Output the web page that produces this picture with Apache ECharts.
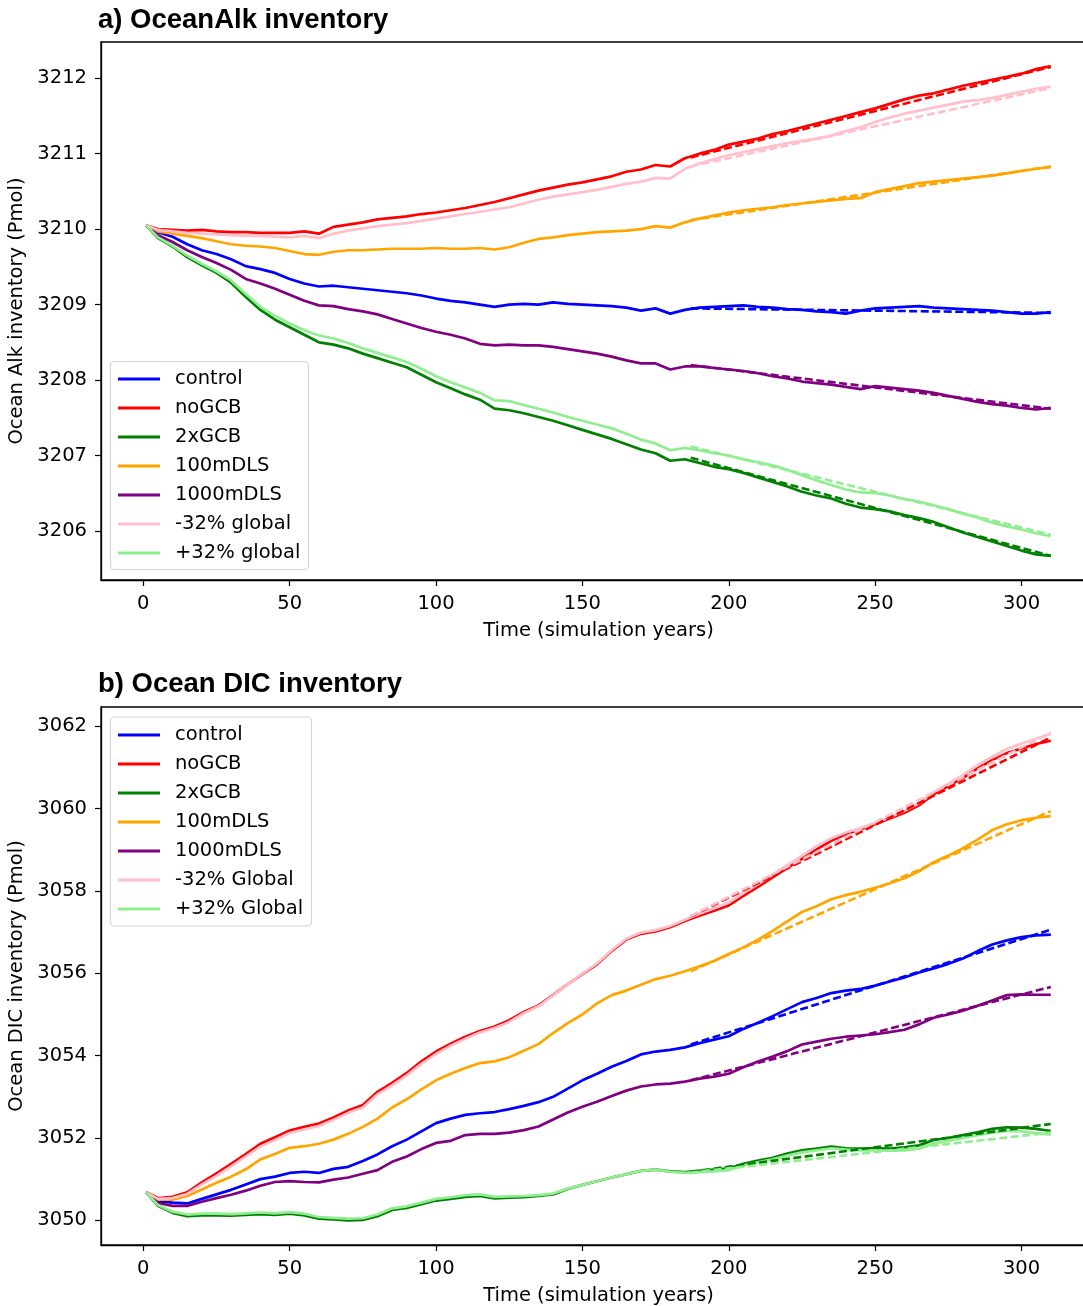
<!DOCTYPE html>
<html><head><meta charset="utf-8">
<script src="https://cdn.jsdelivr.net/npm/echarts@6/dist/echarts.min.js"></script>
<style>html,body{margin:0;padding:0;background:#fff}#c{width:1083px;height:1306px}</style>
</head><body><div id="c"></div>
<script>
// ---------- data ----------
const years = [1,5,10,15,20,25,30,35,40,45,
  50,55,60,65,70,75,80,85,90,95,
  100,105,110,115,120,125,130,135,140,145,
  150,155,160,165,170,175,180,185,190,195,
  200,205,210,215,220,225,230,235,240,245,
  250,255,260,265,270,275,280,285,290,295,
  300,305,310];
const xTicks = [0,50,100,150,200,250,300];
const yTicksA = [3206,3207,3208,3209,3210,3211,3212];
const yTicksB = [3050,3052,3054,3056,3058,3060,3062];
const fitYears = [187,310];

// panel a) alkalinity
const alkControl = [3210.05,3209.96,3209.90,3209.80,3209.72,3209.67,3209.60,3209.51,3209.47,3209.42,
  3209.34,3209.28,3209.24,3209.25,3209.23,3209.21,3209.19,3209.17,3209.15,3209.12,
  3209.08,3209.05,3209.03,3209.00,3208.97,3209.00,3209.01,3209.00,3209.03,3209.01,
  3209.00,3208.99,3208.98,3208.96,3208.92,3208.95,3208.88,3208.93,3208.96,3208.97,
  3208.98,3208.99,3208.97,3208.96,3208.94,3208.93,3208.91,3208.90,3208.88,3208.92,
  3208.95,3208.96,3208.97,3208.98,3208.96,3208.95,3208.94,3208.93,3208.92,3208.90,
  3208.88,3208.88,3208.90];
const alkNoGCB = [3210.05,3210.00,3209.99,3209.98,3209.99,3209.97,3209.96,3209.96,3209.95,3209.95,
  3209.95,3209.97,3209.94,3210.03,3210.06,3210.09,3210.13,3210.15,3210.17,3210.20,
  3210.22,3210.25,3210.28,3210.32,3210.36,3210.41,3210.46,3210.51,3210.55,3210.59,
  3210.62,3210.66,3210.70,3210.76,3210.79,3210.85,3210.83,3210.94,3211.00,3211.05,
  3211.12,3211.16,3211.20,3211.26,3211.30,3211.35,3211.40,3211.45,3211.50,3211.55,
  3211.60,3211.66,3211.72,3211.77,3211.80,3211.85,3211.90,3211.94,3211.98,3212.02,
  3212.06,3212.12,3212.16];
const alk2xGCB = [3210.05,3209.88,3209.77,3209.63,3209.52,3209.42,3209.29,3209.10,3208.93,3208.80,
  3208.70,3208.60,3208.50,3208.47,3208.42,3208.35,3208.29,3208.23,3208.17,3208.07,
  3207.97,3207.89,3207.81,3207.74,3207.62,3207.60,3207.56,3207.51,3207.46,3207.40,
  3207.34,3207.28,3207.22,3207.15,3207.08,3207.03,3206.93,3206.95,3206.90,3206.85,
  3206.82,3206.77,3206.71,3206.65,3206.59,3206.52,3206.47,3206.43,3206.36,3206.31,
  3206.29,3206.26,3206.21,3206.17,3206.12,3206.05,3205.98,3205.92,3205.86,3205.80,
  3205.74,3205.69,3205.67];
const alk100m = [3210.05,3209.97,3209.94,3209.91,3209.88,3209.84,3209.80,3209.78,3209.77,3209.75,
  3209.71,3209.67,3209.66,3209.70,3209.72,3209.72,3209.73,3209.74,3209.74,3209.74,
  3209.75,3209.74,3209.74,3209.75,3209.73,3209.76,3209.82,3209.87,3209.89,3209.92,
  3209.94,3209.96,3209.97,3209.98,3210.00,3210.04,3210.02,3210.09,3210.14,3210.18,
  3210.22,3210.25,3210.27,3210.29,3210.32,3210.34,3210.36,3210.38,3210.40,3210.41,
  3210.49,3210.53,3210.57,3210.61,3210.63,3210.65,3210.67,3210.69,3210.71,3210.74,
  3210.77,3210.80,3210.82];
const alk1000m = [3210.05,3209.92,3209.83,3209.72,3209.63,3209.55,3209.46,3209.34,3209.28,3209.21,
  3209.13,3209.05,3208.99,3208.98,3208.94,3208.91,3208.87,3208.81,3208.75,3208.69,
  3208.64,3208.60,3208.55,3208.48,3208.46,3208.47,3208.46,3208.46,3208.44,3208.41,
  3208.38,3208.35,3208.31,3208.26,3208.22,3208.22,3208.14,3208.18,3208.18,3208.16,
  3208.14,3208.12,3208.09,3208.05,3208.02,3207.98,3207.96,3207.94,3207.91,3207.88,
  3207.92,3207.90,3207.88,3207.86,3207.83,3207.79,3207.75,3207.71,3207.68,3207.66,
  3207.63,3207.61,3207.63];
const alkMinus32 = [3210.05,3209.99,3209.97,3209.95,3209.94,3209.93,3209.92,3209.91,3209.91,3209.90,
  3209.89,3209.91,3209.88,3209.94,3209.98,3210.01,3210.04,3210.06,3210.08,3210.11,
  3210.14,3210.17,3210.20,3210.23,3210.26,3210.29,3210.34,3210.39,3210.43,3210.46,
  3210.49,3210.52,3210.56,3210.60,3210.63,3210.68,3210.67,3210.80,3210.87,3210.93,
  3210.98,3211.02,3211.06,3211.10,3211.14,3211.17,3211.20,3211.24,3211.30,3211.35,
  3211.42,3211.48,3211.53,3211.57,3211.61,3211.65,3211.69,3211.71,3211.74,3211.78,
  3211.82,3211.86,3211.89];
const alkPlus32 = [3210.05,3209.89,3209.78,3209.65,3209.54,3209.44,3209.32,3209.14,3208.97,3208.85,
  3208.75,3208.66,3208.59,3208.55,3208.49,3208.42,3208.36,3208.30,3208.24,3208.15,
  3208.05,3207.97,3207.90,3207.83,3207.73,3207.72,3207.67,3207.62,3207.57,3207.51,
  3207.46,3207.41,3207.36,3207.29,3207.21,3207.16,3207.07,3207.10,3207.07,3207.03,
  3207.00,3206.95,3206.91,3206.87,3206.81,3206.74,3206.67,3206.61,3206.55,3206.51,
  3206.50,3206.47,3206.42,3206.39,3206.34,3206.29,3206.23,3206.18,3206.11,3206.06,
  3206.02,3205.97,3205.93];
// fitted trend lines (start, end) for panel a
const alkFitControl = [3208.95,3208.89];
const alkFitNoGCB = [3210.95,3212.15];
const alkFit2xGCB = [3206.97,3205.67];
const alkFit100m = [3210.12,3210.83];
const alkFit1000m = [3208.20,3207.62];
const alkFitMinus32 = [3210.83,3211.87];
const alkFitPlus32 = [3207.12,3205.95];

// panel b) DIC
const dicControl = [3050.68,3050.46,3050.43,3050.41,3050.52,3050.63,3050.74,3050.87,3051.00,3051.06,
  3051.15,3051.18,3051.15,3051.25,3051.30,3051.44,3051.60,3051.80,3051.96,3052.16,
  3052.36,3052.47,3052.56,3052.60,3052.63,3052.70,3052.78,3052.87,3053.00,3053.20,
  3053.40,3053.56,3053.73,3053.87,3054.03,3054.10,3054.14,3054.20,3054.30,3054.39,
  3054.47,3054.65,3054.80,3054.96,3055.13,3055.30,3055.40,3055.52,3055.58,3055.62,
  3055.70,3055.80,3055.90,3056.02,3056.12,3056.23,3056.36,3056.54,3056.70,3056.80,
  3056.88,3056.92,3056.94];
const dicNoGCB = [3050.68,3050.54,3050.57,3050.68,3050.92,3051.14,3051.37,3051.61,3051.86,3052.02,
  3052.18,3052.27,3052.35,3052.50,3052.67,3052.80,3053.12,3053.34,3053.58,3053.86,
  3054.10,3054.29,3054.46,3054.60,3054.71,3054.86,3055.06,3055.22,3055.47,3055.74,
  3055.98,3056.22,3056.54,3056.82,3056.96,3057.02,3057.12,3057.27,3057.40,3057.52,
  3057.65,3057.88,3058.10,3058.33,3058.56,3058.78,3059.01,3059.22,3059.38,3059.50,
  3059.62,3059.76,3059.90,3060.08,3060.35,3060.55,3060.75,3060.98,3061.18,3061.35,
  3061.46,3061.57,3061.65];
const dic2xGCB = [3050.68,3050.35,3050.18,3050.10,3050.12,3050.12,3050.11,3050.13,3050.15,3050.13,
  3050.16,3050.12,3050.04,3050.02,3050.00,3050.01,3050.10,3050.25,3050.30,3050.39,
  3050.48,3050.52,3050.57,3050.59,3050.53,3050.55,3050.56,3050.59,3050.63,3050.76,
  3050.86,3050.95,3051.04,3051.12,3051.20,3051.23,3051.19,3051.17,3051.20,3051.23,
  3051.26,3051.37,3051.45,3051.52,3051.62,3051.70,3051.74,3051.79,3051.75,3051.74,
  3051.75,3051.74,3051.77,3051.82,3051.95,3052.00,3052.07,3052.14,3052.22,3052.26,
  3052.25,3052.22,3052.17];
const dic100m = [3050.68,3050.50,3050.50,3050.59,3050.75,3050.91,3051.06,3051.24,3051.48,3051.61,
  3051.76,3051.80,3051.86,3051.96,3052.10,3052.27,3052.47,3052.74,3052.94,3053.18,
  3053.40,3053.56,3053.70,3053.82,3053.86,3053.96,3054.12,3054.28,3054.55,3054.79,
  3055.00,3055.27,3055.47,3055.58,3055.72,3055.86,3055.94,3056.05,3056.17,3056.30,
  3056.47,3056.63,3056.82,3057.03,3057.26,3057.49,3057.63,3057.80,3057.90,3057.98,
  3058.08,3058.19,3058.31,3058.48,3058.70,3058.86,3059.04,3059.25,3059.48,3059.62,
  3059.72,3059.78,3059.82];
const dic1000m = [3050.68,3050.42,3050.35,3050.35,3050.45,3050.54,3050.62,3050.72,3050.84,3050.93,
  3050.95,3050.93,3050.92,3050.99,3051.04,3051.13,3051.22,3051.42,3051.55,3051.73,
  3051.88,3051.93,3052.07,3052.10,3052.10,3052.13,3052.19,3052.28,3052.45,3052.62,
  3052.76,3052.88,3053.02,3053.15,3053.25,3053.30,3053.32,3053.37,3053.44,3053.49,
  3053.56,3053.72,3053.86,3053.98,3054.11,3054.27,3054.34,3054.41,3054.46,3054.49,
  3054.52,3054.57,3054.63,3054.76,3054.92,3055.00,3055.09,3055.21,3055.34,3055.47,
  3055.49,3055.48,3055.48];
const dicMinus32 = [3050.68,3050.52,3050.54,3050.64,3050.87,3051.08,3051.31,3051.55,3051.79,3051.95,
  3052.12,3052.21,3052.29,3052.44,3052.61,3052.74,3053.06,3053.28,3053.52,3053.80,
  3054.04,3054.24,3054.41,3054.56,3054.67,3054.82,3055.03,3055.20,3055.46,3055.74,
  3055.99,3056.24,3056.56,3056.84,3056.99,3057.05,3057.15,3057.30,3057.45,3057.58,
  3057.72,3057.95,3058.17,3058.40,3058.63,3058.86,3059.09,3059.28,3059.42,3059.53,
  3059.65,3059.79,3059.95,3060.13,3060.40,3060.61,3060.82,3061.06,3061.26,3061.45,
  3061.58,3061.70,3061.82];
const dicPlus32 = [3050.68,3050.37,3050.21,3050.14,3050.16,3050.16,3050.15,3050.17,3050.19,3050.17,
  3050.20,3050.16,3050.08,3050.06,3050.04,3050.05,3050.14,3050.29,3050.34,3050.43,
  3050.52,3050.56,3050.61,3050.63,3050.57,3050.58,3050.59,3050.61,3050.65,3050.77,
  3050.86,3050.95,3051.04,3051.12,3051.20,3051.23,3051.18,3051.15,3051.17,3051.19,
  3051.22,3051.33,3051.41,3051.48,3051.57,3051.65,3051.70,3051.75,3051.72,3051.70,
  3051.70,3051.69,3051.70,3051.74,3051.87,3051.93,3052.00,3052.07,3052.13,3052.17,
  3052.16,3052.12,3052.08];
const dicFitControl = [3054.27,3057.06];
const dicFitNoGCB = [3057.38,3061.73];
const dicFit2xGCB = [3051.18,3052.34];
const dicFit100m = [3056.05,3059.94];
const dicFit1000m = [3053.40,3055.67];
const dicFitMinus32 = [3057.39,3061.85];
const dicFitPlus32 = [3051.16,3052.13];

const namesA = ['control','noGCB','2xGCB','100mDLS','1000mDLS','-32% global','+32% global'];
const namesB = ['control','noGCB','2xGCB','100mDLS','1000mDLS','-32% Global','+32% Global'];
const colors = ['#0000ff','#ff0000','#008000','#ffa500','#800080','#ffc0cb','#90ee90'];

// ---------- build ----------
const FONT = 'DejaVu Sans';
const pair = (xs, ys) => xs.map((x, i) => [x, ys[i]]);
const valsA = [alkControl, alkNoGCB, alk2xGCB, alk100m, alk1000m, alkMinus32, alkPlus32];
const fitsA = [alkFitControl, alkFitNoGCB, alkFit2xGCB, alkFit100m, alkFit1000m, alkFitMinus32, alkFitPlus32];
const valsB = [dicControl, dicNoGCB, dic2xGCB, dic100m, dic1000m, dicMinus32, dicPlus32];
const fitsB = [dicFitControl, dicFitNoGCB, dicFit2xGCB, dicFit100m, dicFit1000m, dicFitMinus32, dicFitPlus32];

const series = [];
function addPanel(idx, names, vals, fits) {
  names.forEach((n, i) => {
    series.push({type:'line', name:n, xAxisIndex:idx, yAxisIndex:idx, data:pair(years, vals[i]),
      showSymbol:false, symbol:'none', smooth:false, color:colors[i],
      lineStyle:{color:colors[i], width:2.7}, z:2, emphasis:{disabled:true}});
  });
  names.forEach((n, i) => {
    series.push({type:'line', name:n + ' trend' + idx, xAxisIndex:idx, yAxisIndex:idx, data:pair(fitYears, fits[i]),
      showSymbol:false, symbol:'none', color:colors[i],
      lineStyle:{color:colors[i], width:2.6, type:[8,3.5]}, z:2, emphasis:{disabled:true}});
  });
}
addPanel(0, namesA, valsA, fitsA);
addPanel(1, namesB, valsB, fitsB);

function xAxis(idx) {
  return {type:'value', gridIndex:idx, min:-14.45, max:325.45,
    axisLine:{show:true, onZero:false, lineStyle:{color:'#000', width:1.3}},
    axisTick:{show:true, length:6, customValues:xTicks, lineStyle:{color:'#000', width:1.2}},
    axisLabel:{customValues:xTicks, fontSize:19.5, fontFamily:FONT, color:'#000', margin:14,
      formatter:(v) => String(v)},
    splitLine:{show:false},
    name:'Time (simulation years)', nameLocation:'middle', nameGap:41,
    nameTextStyle:{fontSize:19.5, fontFamily:FONT, color:'#000'}};
}
function yAxis(idx, min, max, ticks, name) {
  return {type:'value', gridIndex:idx, min:min, max:max,
    axisLine:{show:true, onZero:false, lineStyle:{color:'#000', width:1.3}},
    axisTick:{show:true, length:6, customValues:ticks, lineStyle:{color:'#000', width:1.2}},
    axisLabel:{customValues:ticks, fontSize:19.5, fontFamily:FONT, color:'#000', margin:14,
      formatter:(v) => String(v)},
    splitLine:{show:false},
    name:name, nameLocation:'middle', nameGap:72,
    nameTextStyle:{fontSize:19.5, fontFamily:FONT, color:'#000'}};
}
function legend(names, top) {
  return {orient:'vertical', left:118, top:top, padding:0, itemWidth:42, itemHeight:20, itemGap:9,
    selectedMode:false, z:6,
    data:names.map((n, i) => ({name:n, icon:'path://M0,8.6 L42,8.6 L42,11.4 L0,11.4 Z', itemStyle:{color:colors[i]}})),
    textStyle:{fontSize:19.5, fontFamily:FONT, color:'#000', lineHeight:20, padding:[0,0,0,10]}};
}

const option = {
  animation:false,
  backgroundColor:'#fff',
  grid:[
    {left:101, top:42, width:995, height:538, show:true, borderColor:'#000', borderWidth:1.3,
      backgroundColor:'transparent', containLabel:false, outerBoundsMode:'none'},
    {left:101, top:707, width:995, height:538, show:true, borderColor:'#000', borderWidth:1.3,
      backgroundColor:'transparent', containLabel:false, outerBoundsMode:'none'}
  ],
  xAxis:[xAxis(0), xAxis(1)],
  yAxis:[
    yAxis(0, 3205.35, 3212.48, yTicksA, 'Ocean Alk inventory (Pmol)'),
    yAxis(1, 3049.4, 3062.47, yTicksB, 'Ocean DIC inventory (Pmol)')
  ],
  legend:[legend(namesA, 369), legend(namesB, 725)],
  graphic:[
    {type:'rect', z:5, shape:{x:110.5, y:361.5, width:198, height:208, r:4},
      style:{fill:'rgba(255,255,255,0.85)', stroke:'#d5d5d5', lineWidth:1.2}},
    {type:'rect', z:5, shape:{x:110.5, y:717, width:201, height:209, r:4},
      style:{fill:'rgba(255,255,255,0.85)', stroke:'#d5d5d5', lineWidth:1.2}},
    {type:'text', z:10, x:98, y:20, style:{text:'a) OceanAlk inventory', fill:'#000',
      font:'bold 27.5px "Liberation Sans"', verticalAlign:'middle', align:'left'}},
    {type:'text', z:10, x:98, y:684, style:{text:'b) Ocean DIC inventory', fill:'#000',
      font:'bold 27.5px "Liberation Sans"', verticalAlign:'middle', align:'left'}}
  ],
  series:series
};
const chart = echarts.init(document.getElementById('c'), null, {renderer:'canvas'});
chart.setOption(option);
</script>
</body></html>
